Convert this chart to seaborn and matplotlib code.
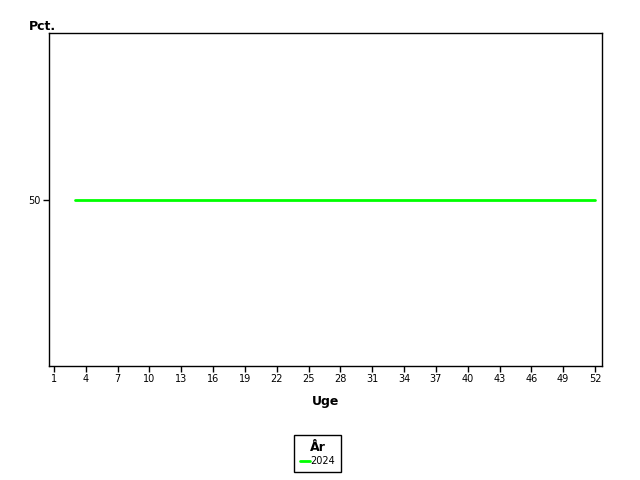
import matplotlib
matplotlib.use("Agg")
import matplotlib.pyplot as plt
import seaborn as sns
import pandas as pd

weeks = [3, 4, 5, 6, 7, 8, 9, 10, 11, 12, 13, 14, 15, 16, 17, 18, 19, 20, 21, 22,
         23, 24, 25, 26, 27, 28, 29, 30, 31, 32, 33, 34, 35, 36, 37, 38, 39, 40,
         41, 42, 43, 44, 45, 46, 47, 48, 49, 50, 51, 52]
pct = [50, 50, 50, 50, 50, 50, 50, 50, 50, 50, 50, 50, 50, 50, 50, 50, 50, 50, 50, 50,
       50, 50, 50, 50, 50, 50, 50, 50, 50, 50, 50, 50, 50, 50, 50, 50, 50, 50,
       50, 50, 50, 50, 50, 50, 50, 50, 50, 50, 50, 50]
year = "2024"
xticks = list(range(1, 53, 3))
yticks = [50]

df = pd.DataFrame({"Uge": weeks, "Pct.": pct, "År": [year] * len(weeks)})

sns.set_theme(style="white")
plt.rcParams["font.family"] = ["DejaVu Sans"]
plt.rcParams["text.color"] = "black"

fig = plt.figure(figsize=(6.4, 4.8), dpi=100)
ax = fig.add_axes([49 / 640, 1 - 366 / 480, (602 - 49) / 640, (366 - 33) / 480])
sns.lineplot(data=df, x="Uge", y="Pct.", hue="År", palette={year: "#00ff00"},
             linewidth=2, ax=ax, legend=False)

ax.set_xlim(0.53, 52.66)
ax.set_ylim(0, 100)
ax.set_xticks(xticks)
ax.set_yticks(yticks)
ax.tick_params(axis="both", direction="out", length=4, width=1, color="black",
               labelsize=7, labelcolor="black", bottom=True, left=True, pad=2)
for s in ax.spines.values():
    s.set_color("black")
    s.set_linewidth(1)

ax.set_xlabel("Uge", fontsize=9, fontweight="bold", color="black", labelpad=8)
ax.set_ylabel("")
fig.text(29 / 640, 1 - 27 / 480, "Pct.", fontsize=9, fontweight="bold",
         color="black", ha="left", va="center")

from matplotlib.lines import Line2D
handle = Line2D([0], [0], color="#00ff00", linewidth=2)
leg = fig.legend([handle], [year], title="År", loc="center",
                 bbox_to_anchor=(317.5 / 640, 26.5 / 480), frameon=True,
                 fontsize=7, title_fontproperties={"weight": "bold", "size": 9},
                 handlelength=1.0, handletextpad=0.1, borderpad=0.55,
                 labelspacing=0.3, fancybox=False, edgecolor="black", framealpha=1)
leg.get_frame().set_linewidth(1)
leg.get_title().set_color("black")
for t in leg.get_texts():
    t.set_color("black")

fig.savefig("out.png", dpi=100)
